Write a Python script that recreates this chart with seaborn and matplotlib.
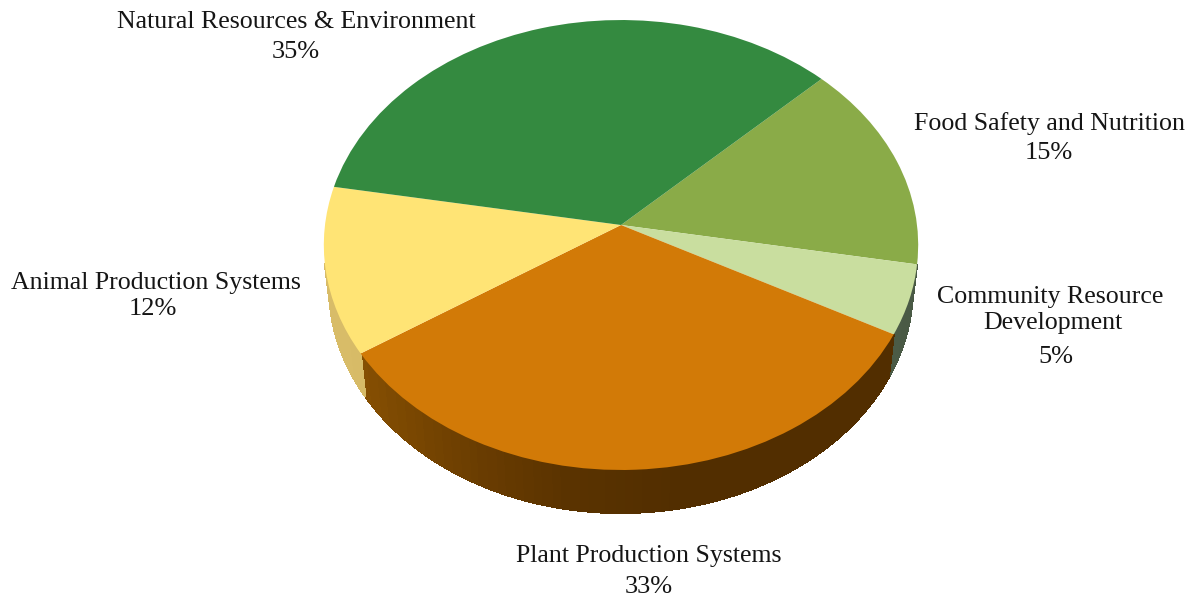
import numpy as np
import matplotlib
matplotlib.use('Agg')
import matplotlib.pyplot as plt
from matplotlib.transforms import Transform
import seaborn as sns

# Values, clockwise from the top right
categories = ['Food Safety and Nutrition', 'Community Resource', 'Development',
              'Plant Production Systems', 'Animal Production Systems',
              'Natural Resources & Environment']
shares = [15, 5, 33, 12, 35]
top_colors = ['#8aab48', '#c9de9f', '#d27a07', '#ffe475', '#348a40']
start_angle = 44.0

# Pie geometry in image pixels
apex_x, apex_y = 621, 225
scale_x, scale_y, tilt = 296, 223.2, 0.0889
depth = 43
rim_shrink = 0.982


class PiePerspective(Transform):
    """Maps the unit pie onto the tilted disc, in picture pixels."""
    input_dims = 2
    output_dims = 2

    def transform_non_affine(self, values):
        values = np.asarray(values, dtype=float)
        w = 1 + tilt * values[:, 1]
        return np.column_stack([apex_x + scale_x * values[:, 0] / w,
                                apex_y - scale_y * values[:, 1] / w])


sns.set_theme(style='white')
plt.rcParams['font.family'] = ['Liberation Serif', 'DejaVu Serif']

fig = plt.figure(figsize=(11.91, 5.96), dpi=100)
ax = fig.add_axes([0, 0, 1, 1])

wedges, _ = ax.pie(shares, colors=top_colors, startangle=start_angle,
                   counterclock=False, radius=1)
ax.set_aspect('auto')
ax.set_xlim(0, 1191)
ax.set_ylim(596, 0)
ax.axis('off')

projection = PiePerspective()
for wedge in wedges:
    wedge.set_transform(projection + ax.transData)
    wedge.set_clip_on(False)
    wedge.set_zorder(3)
    wedge.set_linewidth(0)

# Side wall of the pie, shaded from left to right
wall_ramps = [
    sns.blend_palette(['#55652f', '#55652f'], 64),
    sns.blend_palette(['#5c6c55', '#4a5a45'], 64),
    sns.blend_palette(['#8c5302', '#6f4001', '#5a3300', '#522e00', '#522e00', '#522e00'], 64),
    sns.blend_palette(['#d8bc68', '#c4a858'], 64),
    sns.blend_palette(['#1f5a28', '#1f5a28'], 64),
]
edges = start_angle - np.cumsum([0] + shares) * 3.6
for i in range(len(shares)):
    steps = np.arange(edges[i], edges[i + 1] - 0.5, -0.5)
    steps = np.append(steps, edges[i + 1])
    rim = projection.transform(np.column_stack([np.cos(np.radians(steps)),
                                                np.sin(np.radians(steps))]))
    low_x = apex_x + (rim[:, 0] - apex_x) * rim_shrink
    low_y = rim[:, 1] + depth
    for j in range(len(steps) - 1):
        if np.sin(np.radians(steps[j])) > -0.17:
            continue
        pos = np.clip((rim[j, 0] - 330) / 590, 0, 0.999)
        color = wall_ramps[i][int(pos * 64)]
        ax.fill([rim[j, 0], rim[j + 1, 0], low_x[j + 1], low_x[j]],
                [rim[j, 1], rim[j + 1, 1], low_y[j + 1], low_y[j]],
                facecolor=color, edgecolor=color, linewidth=0.8, zorder=2,
                antialiased=False)

# Labels
name_size = 18.6
pct_size = 19
text_color = '#151515'
label_style = dict(ha='center', va='center', color=text_color)
ax.text(296, 22, categories[5], fontsize=name_size, **label_style)
ax.text(296, 52, f'{shares[4]}%', fontsize=pct_size, **label_style)
ax.text(1049, 124, categories[0], fontsize=name_size, **label_style)
ax.text(1049, 153, f'{shares[0]}%', fontsize=pct_size, **label_style)
ax.text(1050, 297, categories[1], fontsize=name_size, **label_style)
ax.text(1053, 323, categories[2], fontsize=name_size, **label_style)
ax.text(1056, 357, f'{shares[1]}%', fontsize=pct_size, **label_style)
ax.text(156, 283, categories[4], fontsize=name_size, **label_style)
ax.text(153, 309, f'{shares[3]}%', fontsize=pct_size, **label_style)
ax.text(649, 556, categories[3], fontsize=name_size, **label_style)
ax.text(649, 587, f'{shares[2]}%', fontsize=pct_size, **label_style)

fig.savefig('out.png', dpi=100, facecolor='white')
